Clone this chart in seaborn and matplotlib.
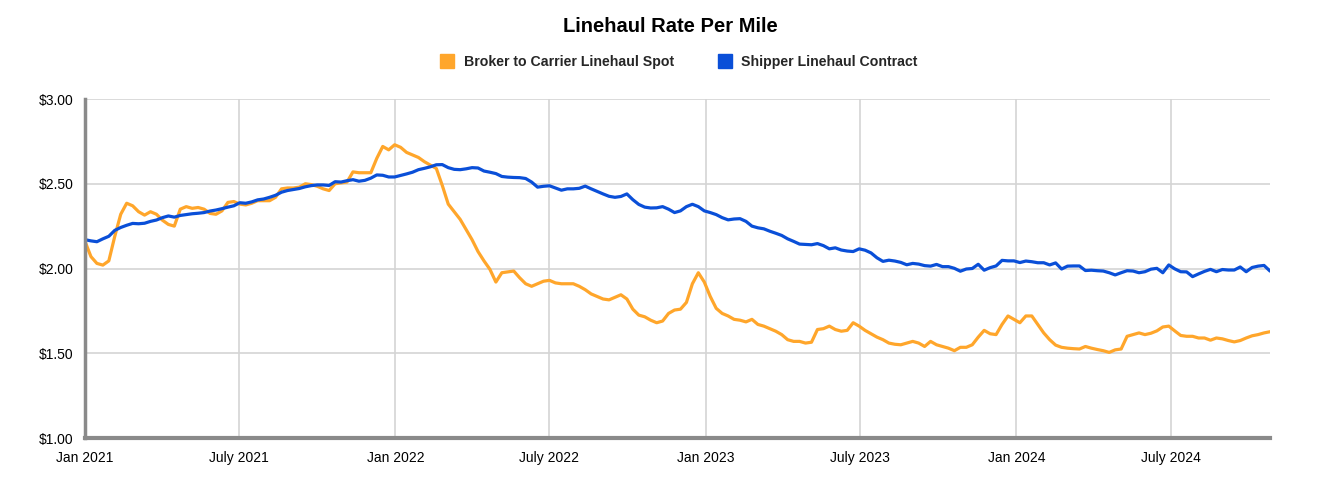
import pandas as pd
import matplotlib.pyplot as plt
import seaborn as sns
from matplotlib.lines import Line2D

# weekly rates, $ per mile, starting first week of Jan 2021
start_date = "2021-01-01"

spot = [
    2.16, 2.07, 2.03, 2.02, 2.045, 2.19, 2.32, 2.385, 2.37, 2.335,
    2.315, 2.335, 2.32, 2.285, 2.26, 2.25, 2.35, 2.365, 2.355, 2.36,
    2.35, 2.325, 2.32, 2.34, 2.39, 2.395, 2.38, 2.375, 2.385, 2.40,
    2.40, 2.40, 2.42, 2.47, 2.475, 2.475, 2.48, 2.50, 2.495, 2.485,
    2.47, 2.46, 2.50, 2.505, 2.51, 2.57, 2.565, 2.565, 2.565, 2.65,
    2.72, 2.70, 2.73, 2.715, 2.685, 2.67, 2.655, 2.63, 2.61, 2.59,
    2.49, 2.38, 2.335, 2.29, 2.23, 2.17, 2.10, 2.045, 1.995, 1.92,
    1.975, 1.98, 1.985, 1.945, 1.91, 1.895, 1.91, 1.925, 1.93, 1.915,
    1.91, 1.91, 1.91, 1.895, 1.875, 1.85, 1.835, 1.82, 1.815, 1.83,
    1.845, 1.82, 1.76, 1.725, 1.715, 1.695, 1.68, 1.69, 1.735, 1.755,
    1.76, 1.80, 1.91, 1.975, 1.92, 1.835, 1.765, 1.735, 1.72, 1.70,
    1.695, 1.685, 1.70, 1.67, 1.66, 1.645, 1.63, 1.61, 1.58, 1.57,
    1.57, 1.56, 1.565, 1.64, 1.645, 1.66, 1.64, 1.63, 1.635, 1.68,
    1.66, 1.635, 1.615, 1.595, 1.58, 1.56, 1.553, 1.55, 1.56, 1.57,
    1.56, 1.54, 1.57, 1.55, 1.54, 1.53, 1.515, 1.535, 1.535, 1.55,
    1.595, 1.635, 1.615, 1.61, 1.67, 1.72, 1.70, 1.68, 1.72, 1.72,
    1.67, 1.62, 1.58, 1.548, 1.535, 1.53, 1.527, 1.525, 1.54, 1.53,
    1.522, 1.515, 1.505, 1.52, 1.525, 1.60, 1.61, 1.62, 1.61, 1.618,
    1.632, 1.655, 1.66, 1.632, 1.605, 1.60, 1.60, 1.59, 1.59, 1.577,
    1.59, 1.585, 1.575, 1.567, 1.575, 1.59, 1.603, 1.61, 1.62, 1.627,
]

contract = [
    2.17, 2.163, 2.158, 2.175, 2.19, 2.225, 2.242, 2.255, 2.266, 2.264,
    2.267, 2.278, 2.286, 2.30, 2.31, 2.303, 2.313, 2.318, 2.323, 2.326,
    2.33, 2.339, 2.345, 2.353, 2.362, 2.37, 2.388, 2.385, 2.393, 2.405,
    2.41, 2.42, 2.432, 2.45, 2.46, 2.466, 2.472, 2.482, 2.489, 2.493,
    2.493, 2.49, 2.512, 2.51, 2.518, 2.524, 2.515, 2.52, 2.533, 2.552,
    2.55, 2.54, 2.54, 2.549, 2.558, 2.568, 2.583, 2.591, 2.60, 2.612,
    2.613, 2.595, 2.585, 2.583, 2.588, 2.595, 2.593, 2.575, 2.568, 2.56,
    2.543, 2.539, 2.537, 2.536, 2.531, 2.51, 2.48, 2.485, 2.488, 2.475,
    2.462, 2.47, 2.47, 2.473, 2.486, 2.47, 2.455, 2.44, 2.426, 2.42,
    2.425, 2.44, 2.406, 2.378, 2.362, 2.357, 2.358, 2.365, 2.35, 2.33,
    2.34, 2.365, 2.379, 2.365, 2.34, 2.33, 2.318, 2.30, 2.287, 2.292,
    2.294, 2.278, 2.25, 2.24, 2.234, 2.22, 2.208, 2.195, 2.175, 2.16,
    2.144, 2.142, 2.14, 2.147, 2.135, 2.116, 2.122, 2.109, 2.103, 2.10,
    2.116, 2.108, 2.092, 2.063, 2.042, 2.049, 2.044, 2.036, 2.022, 2.03,
    2.026, 2.017, 2.014, 2.024, 2.011, 2.011, 2.001, 1.984, 1.997, 2.00,
    2.025, 1.99, 2.005, 2.015, 2.048, 2.045, 2.045, 2.035, 2.044, 2.04,
    2.034, 2.034, 2.021, 2.033, 1.997, 2.014, 2.015, 2.015, 1.988, 1.99,
    1.987, 1.985, 1.975, 1.962, 1.975, 1.987, 1.985, 1.975, 1.981, 1.996,
    2.001, 1.975, 2.021, 1.998, 1.981, 1.98, 1.952, 1.968, 1.983, 1.995,
    1.981, 1.994, 1.991, 1.991, 2.009, 1.981, 2.006, 2.014, 2.018, 1.985,
]

series_names = ["Broker to Carrier Linehaul Spot", "Shipper Linehaul Contract"]
series_colors = ["#FFA62B", "#0A4FD8"]

tick_dates = ["2021-01-01", "2021-07-01", "2022-01-01", "2022-07-01",
              "2023-01-01", "2023-07-01", "2024-01-01", "2024-07-01"]
tick_labels = ["Jan 2021", "July 2021", "Jan 2022", "July 2022",
               "Jan 2023", "July 2023", "Jan 2024", "July 2024"]
y_ticks = [1.00, 1.50, 2.00, 2.50, 3.00]

dates = pd.date_range(start_date, periods=len(spot), freq="7D")
df = pd.concat([
    pd.DataFrame({"date": dates, "rate": spot, "series": series_names[0]}),
    pd.DataFrame({"date": dates, "rate": contract, "series": series_names[1]}),
])

sns.set_style("white")
plt.rcParams["font.family"] = ["Liberation Sans", "DejaVu Sans"]

fig = plt.figure(figsize=(13.24, 4.94), dpi=100)
ax = fig.add_axes([85 / 1324, 1 - 438 / 494, 1185 / 1324, 339 / 494])

sns.lineplot(data=df, x="date", y="rate", hue="series", palette=series_colors,
             hue_order=series_names, linewidth=2.3, legend=False, ax=ax)

ax.set_xlim(dates[0], dates[-1])
ax.set_ylim(1.0, 3.0)
ax.set_xticks(pd.to_datetime(tick_dates))
ax.set_xticklabels(tick_labels)
ax.set_yticks(y_ticks)
ax.set_yticklabels([f"${v:.2f}" for v in y_ticks])
ax.set_xlabel("")
ax.set_ylabel("")
ax.grid(True, color="#d4d4d4", linewidth=1.2)
ax.set_axisbelow(True)
ax.tick_params(axis="both", length=0, labelsize=10, colors="#000000")
ax.tick_params(axis="x", pad=9)
ax.tick_params(axis="y", pad=8)

for side in ["top", "right"]:
    ax.spines[side].set_visible(False)
ax.spines["left"].set_color("#8a8a8a")
ax.spines["left"].set_linewidth(2.5)
ax.spines["bottom"].set_color("#8a8a8a")
ax.spines["bottom"].set_linewidth(3)

fig.text(0.506, 0.947, "Linehaul Rate Per Mile", ha="center", va="center",
         fontsize=14.5, fontweight="bold", color="#000000")

handles = [Line2D([], [], marker="s", linestyle="", markersize=10.5,
                  markerfacecolor=c, markeredgecolor=c) for c in series_colors]
fig.legend(handles, series_names, loc="center", bbox_to_anchor=(0.51, 0.874),
           ncol=2, frameon=False, handletextpad=0.15, columnspacing=2.6,
           prop={"weight": "bold", "size": 10.2})

fig.savefig("out.png", dpi=100)
